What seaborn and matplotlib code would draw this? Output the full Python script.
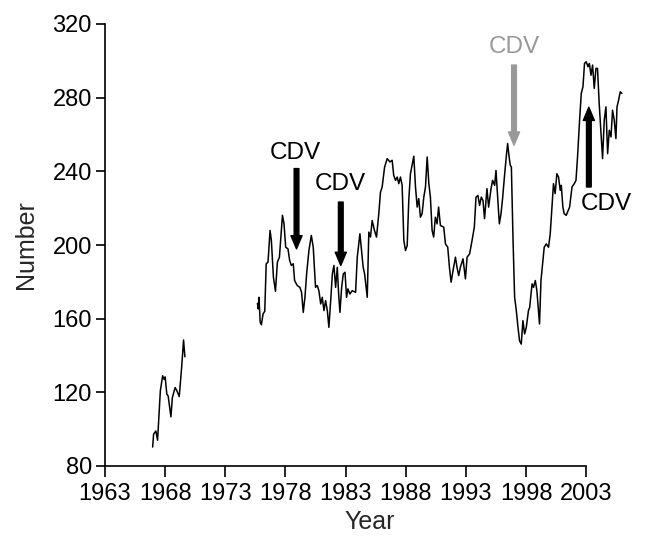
import matplotlib
matplotlib.use("Agg")
import matplotlib.pyplot as plt
import pandas as pd
import seaborn as sns

# early counts (first block of the series)
years_a = [1966.96, 1967.04, 1967.23, 1967.37, 1967.60, 1967.79, 1967.92, 1968.00,
           1968.14, 1968.25, 1968.48, 1968.60, 1968.83, 1969.00, 1969.17, 1969.37,
           1969.53, 1969.64]
counts_a = [90.3, 97.3, 99.0, 94.0, 120.8, 129.0, 127.0, 128.4,
            119.0, 118.0, 106.7, 117.2, 122.6, 120.5, 117.7, 133.5,
            148.4, 139.3]

# later counts (second block)
years_b = [1975.67, 1975.74, 1975.80, 1975.90, 1976.00, 1976.14, 1976.28, 1976.40,
           1976.55, 1976.72, 1976.83, 1977.00, 1977.17, 1977.33, 1977.50, 1977.75,
           1977.88, 1978.02, 1978.21, 1978.35, 1978.49, 1978.65, 1978.76, 1978.98,
           1979.20, 1979.34, 1979.48, 1979.62, 1979.76, 1979.95, 1980.15, 1980.31,
           1980.50, 1980.64, 1980.78, 1980.93, 1981.06, 1981.20, 1981.34, 1981.48,
           1981.61, 1981.76, 1981.90, 1982.03, 1982.17, 1982.31, 1982.42, 1982.53,
           1982.67, 1982.81, 1982.95, 1983.08, 1983.19, 1983.36, 1983.55, 1983.83,
           1983.97, 1984.19, 1984.30, 1984.46, 1984.58, 1984.80, 1984.93, 1985.07,
           1985.21, 1985.40, 1985.57, 1985.76, 1985.90, 1986.04, 1986.24, 1986.46,
           1986.68, 1986.87, 1987.00, 1987.15, 1987.29, 1987.42, 1987.56, 1987.70,
           1987.84, 1987.98, 1988.12, 1988.25, 1988.39, 1988.53, 1988.67, 1988.81,
           1988.95, 1989.08, 1989.22, 1989.36, 1989.50, 1989.64, 1989.78, 1989.92,
           1990.05, 1990.19, 1990.32, 1990.46, 1990.60, 1990.73, 1990.88, 1991.16,
           1991.30, 1991.49, 1991.63, 1991.77, 1991.93, 1992.13, 1992.26, 1992.40,
           1992.54, 1992.76, 1992.96, 1993.10, 1993.31, 1993.51, 1993.70, 1993.84,
           1994.00, 1994.14, 1994.28, 1994.42, 1994.55, 1994.75, 1994.89, 1995.09,
           1995.22, 1995.39, 1995.50, 1995.64, 1995.78, 1995.92, 1996.06, 1996.20,
           1996.34, 1996.47, 1996.61, 1996.69, 1996.78, 1996.92, 1997.05, 1997.19,
           1997.33, 1997.46, 1997.60, 1997.74, 1997.88, 1998.02, 1998.20, 1998.30,
           1998.50, 1998.62, 1998.77, 1998.90, 1999.12, 1999.24, 1999.40, 1999.51,
           1999.68, 1999.87, 2000.01, 2000.15, 2000.28, 2000.42, 2000.56, 2000.70,
           2000.84, 2000.93, 2001.06, 2001.17, 2001.34, 2001.45, 2001.62, 2001.82,
           2002.01, 2002.15, 2002.28, 2002.45, 2002.59, 2002.73, 2002.86, 2003.00,
           2003.15, 2003.26, 2003.40, 2003.53, 2003.67, 2003.81, 2003.94, 2004.08,
           2004.22, 2004.36, 2004.50, 2004.64, 2004.78, 2004.92, 2005.06, 2005.19,
           2005.33, 2005.47, 2005.56, 2005.69, 2005.83, 2005.97]
counts_b = [168.3, 165.3, 171.6, 158.0, 156.7, 162.6, 164.0, 189.8,
            190.7, 207.9, 202.4, 182.5, 174.9, 190.7, 193.4, 216.1,
            211.5, 198.8, 197.9, 191.6, 188.9, 189.8, 180.7, 178.0,
            177.0, 174.3, 163.4, 171.6, 184.3, 197.0, 205.2, 198.8,
            177.0, 178.0, 175.2, 168.0, 171.6, 164.4, 169.8, 164.4,
            155.3, 169.8, 184.3, 188.9, 177.0, 187.9, 173.4, 163.4,
            177.0, 184.3, 185.2, 171.6, 176.2, 173.4, 175.2, 174.3,
            193.4, 206.1, 198.8, 187.9, 184.3, 171.6, 207.0, 204.3,
            213.3, 207.9, 204.3, 217.0, 228.7, 231.5, 242.3, 246.9,
            245.1, 246.0, 237.8, 235.1, 236.9, 233.3, 236.9, 232.4,
            202.4, 197.0, 199.7, 224.2, 238.7, 243.3, 248.2, 231.5,
            220.6, 225.2, 215.1, 217.0, 226.0, 231.5, 247.8, 233.3,
            226.0, 207.9, 204.3, 215.1, 211.5, 220.6, 210.6, 209.7,
            200.6, 198.8, 187.9, 179.8, 186.1, 193.4, 187.9, 183.4,
            187.9, 192.5, 181.6, 193.4, 195.2, 202.4, 209.7, 226.0,
            226.9, 221.5, 226.0, 224.2, 214.3, 230.6, 220.6, 230.6,
            235.1, 232.4, 240.5, 226.0, 211.5, 217.0, 226.0, 236.9,
            246.9, 255.1, 246.9, 243.3, 242.3, 202.4, 171.6, 164.4,
            155.3, 148.0, 146.2, 158.9, 151.7, 155.3, 164.4, 166.1,
            178.9, 177.0, 180.7, 175.2, 157.1, 180.7, 191.6, 198.8,
            200.6, 198.8, 206.1, 220.6, 233.3, 227.9, 238.7, 236.9,
            229.7, 232.4, 220.6, 217.0, 216.1, 217.9, 220.6, 231.5,
            233.3, 235.1, 247.8, 267.7, 282.3, 285.9, 298.6, 299.5,
            296.8, 298.6, 292.2, 297.7, 285.0, 295.9, 295.9, 276.8,
            262.3, 246.9, 267.8, 275.0, 249.6, 262.3, 258.7, 273.2,
            267.8, 257.8, 275.0, 278.6, 283.2, 282.3]

# CDV arrows: x position, arrow tail, arrow tip, label position, colour
cdv_x = [1978.92, 1982.60, 1997.00, 2003.22]
cdv_tail = [241.5, 223.3, 297.7, 231.5]
cdv_tip = [197.9, 188.9, 254.2, 274.8]
cdv_label_x = [1978.85, 1982.60, 1997.00, 2004.70]
cdv_label_y = [250.0, 233.3, 307.6, 222.0]
cdv_color = ["black", "black", "#999999", "black"]

x_ticks = list(range(1963, 2004, 5))
y_ticks = list(range(80, 321, 40))

df = pd.concat([
    pd.DataFrame({"Year": years_a, "Number": counts_a, "block": 0}),
    pd.DataFrame({"Year": years_b, "Number": counts_b, "block": 1}),
])

sns.set_style("ticks")
plt.rcParams["font.family"] = ["Liberation Sans", "DejaVu Sans"]

fig = plt.figure(figsize=(6.57, 5.38), dpi=100)
ax = fig.add_axes([105 / 657, 72 / 538, 529 / 657, 442 / 538])

sns.lineplot(data=df, x="Year", y="Number", units="block", estimator=None,
             color="black", lw=1.1, ax=ax, legend=False)

ax.set_xlim(1963, 1963 + 529 / 12.03)
ax.set_ylim(80, 320)
ax.set_xticks(x_ticks)
ax.set_yticks(y_ticks)
ax.spines[["top", "right"]].set_visible(False)
ax.spines["bottom"].set_bounds(1963, 2003)
for s in ["left", "bottom"]:
    ax.spines[s].set_linewidth(1.2)
    ax.spines[s].set_color("black")
ax.tick_params(axis="x", labelsize=17, length=8, width=1.2, direction="out",
               pad=4, colors="black")
ax.tick_params(axis="y", labelsize=17, length=6.5, width=1.2, direction="out",
               pad=3, colors="black")
ax.set_xlabel("Year", fontsize=18, labelpad=4)
ax.set_ylabel("Number", fontsize=18, labelpad=10)

for x, t0, t1, lx, ly, c in zip(cdv_x, cdv_tail, cdv_tip, cdv_label_x,
                                cdv_label_y, cdv_color):
    ax.annotate("", xy=(x, t1), xytext=(x, t0),
                arrowprops=dict(facecolor=c, edgecolor=c, width=3.4,
                                headwidth=8, headlength=9.5, shrink=0))
    ax.text(lx, ly, "CDV", color=c, fontsize=17.5, ha="center", va="center")

fig.savefig("out.png", dpi=100)
